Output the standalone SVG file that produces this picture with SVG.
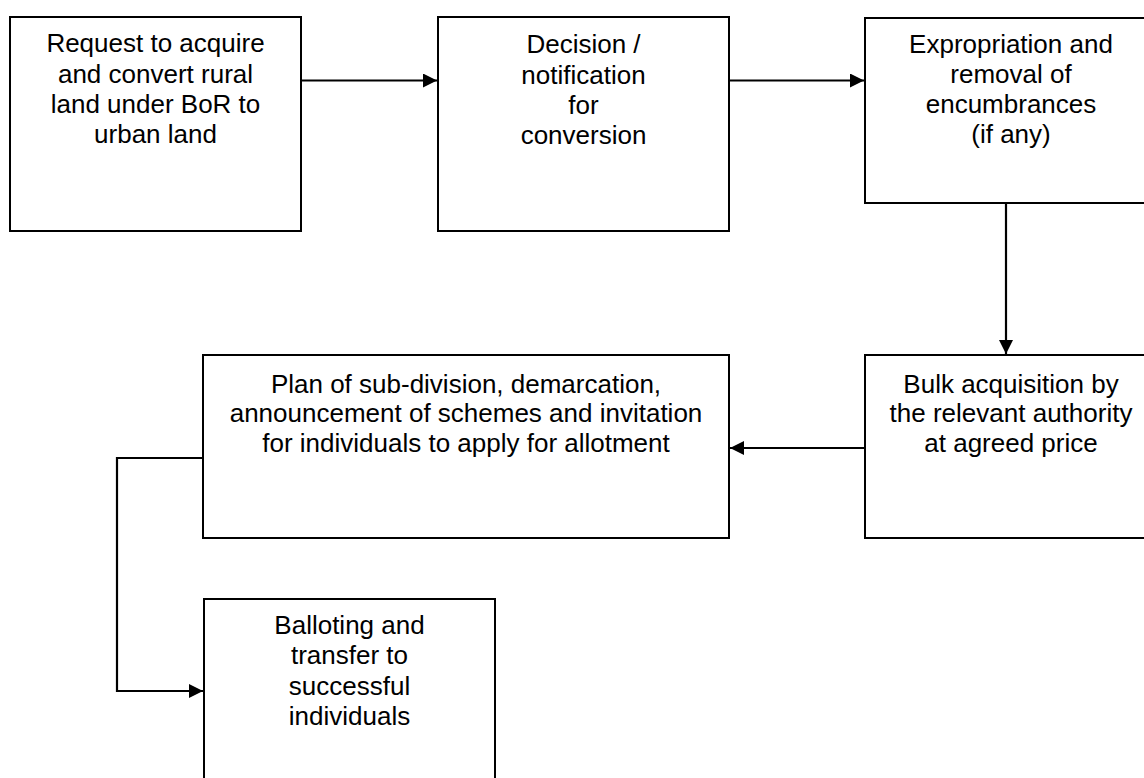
<svg xmlns="http://www.w3.org/2000/svg" width="1144" height="778" viewBox="0 0 1144 778">
<defs>
<style>
.box{fill:#fff;stroke:#000;stroke-width:2}
.lbl{font-family:"Liberation Sans",Arial,sans-serif;font-size:26px;fill:#000;text-anchor:middle}
.con{fill:none;stroke:#000;stroke-width:2.2}
</style>
<marker id="ah" viewBox="0 0 14 14" refX="14" refY="7" markerWidth="14" markerHeight="14" markerUnits="userSpaceOnUse" orient="auto">
<path d="M0,0 L14,7 L0,14 Z" fill="#000"/>
</marker>
</defs>
<rect width="1144" height="778" fill="#fff"/>
<g id="n1">
<rect class="box" x="10" y="17" width="291" height="214"/>
<text class="lbl"><tspan x="155.5" y="52">Request to acquire</tspan><tspan x="155.5" y="83">and convert rural</tspan><tspan x="155.5" y="113">land under BoR to</tspan><tspan x="155.5" y="143">urban land</tspan></text>
</g>
<g id="n2">
<rect class="box" x="438" y="17" width="291" height="214"/>
<text class="lbl"><tspan x="583.5" y="53">Decision /</tspan><tspan x="583.5" y="84">notification</tspan><tspan x="583.5" y="114">for</tspan><tspan x="583.5" y="144">conversion</tspan></text>
</g>
<g id="n3">
<rect class="box" x="865" y="18" width="292" height="185"/>
<text class="lbl"><tspan x="1011" y="53">Expropriation and</tspan><tspan x="1011" y="83">removal of</tspan><tspan x="1011" y="113">encumbrances</tspan><tspan x="1011" y="143">(if any)</tspan></text>
</g>
<g id="n4">
<rect class="box" x="865" y="355" width="292" height="183"/>
<text class="lbl"><tspan x="1011" y="393">Bulk acquisition by</tspan><tspan x="1011" y="422">the relevant authority</tspan><tspan x="1011" y="452">at agreed price</tspan></text>
</g>
<g id="n5">
<rect class="box" x="203" y="355" width="526" height="183"/>
<text class="lbl"><tspan x="466" y="393">Plan of sub-division, demarcation,</tspan><tspan x="466" y="422">announcement of schemes and invitation</tspan><tspan x="466" y="452">for individuals to apply for allotment</tspan></text>
</g>
<g id="n6">
<rect class="box" x="204" y="599" width="291" height="220"/>
<text class="lbl"><tspan x="349.5" y="634">Balloting and</tspan><tspan x="349.5" y="664">transfer to</tspan><tspan x="349.5" y="695">successful</tspan><tspan x="349.5" y="725">individuals</tspan></text>
</g>
<g id="connectors">
<line class="con" x1="301" y1="80.5" x2="437" y2="80.5" marker-end="url(#ah)"/>
<line class="con" x1="729" y1="80.5" x2="864" y2="80.5" marker-end="url(#ah)"/>
<line class="con" x1="1006" y1="203" x2="1006" y2="354" marker-end="url(#ah)"/>
<line class="con" x1="865" y1="448" x2="730" y2="448" marker-end="url(#ah)"/>
<polyline class="con" points="203,458 117,458 117,691 203,691" marker-end="url(#ah)"/>
</g>
</svg>
